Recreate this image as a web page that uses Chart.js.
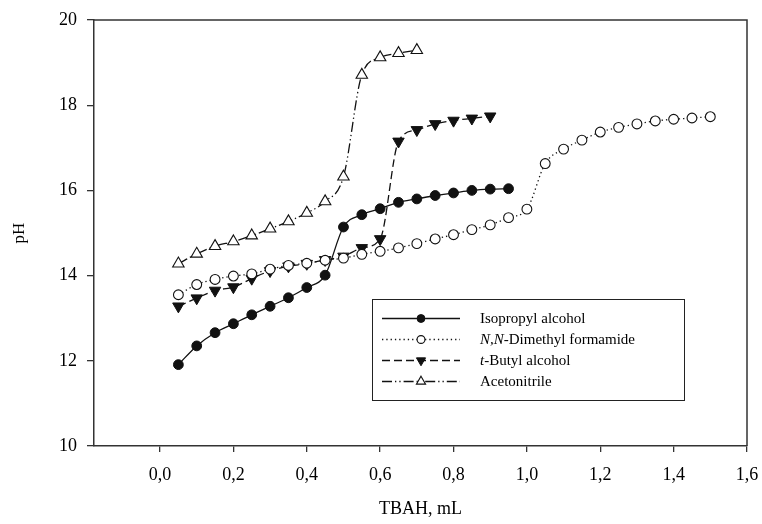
<!DOCTYPE html>
<html><head><meta charset="utf-8">
<script src="https://cdn.jsdelivr.net/npm/chart.js@4/dist/chart.umd.min.js"></script>
<style>html,body{margin:0;padding:0;background:#fff}</style>
</head><body>
<canvas id="c" width="762" height="524"></canvas>
<script>
// ---- data ----
const isoX = [0.05,0.10,0.15,0.20,0.25,0.30,0.35,0.40,0.45,0.50,0.55,0.60,0.65,0.70,0.75,0.80,0.85,0.90,0.95];
const isoY = [11.91,12.35,12.66,12.87,13.08,13.28,13.48,13.72,14.01,15.14,15.43,15.57,15.72,15.80,15.88,15.94,16.00,16.03,16.04];

const dmfX = [0.05,0.10,0.15,0.20,0.25,0.30,0.35,0.40,0.45,0.50,0.55,0.60,0.65,0.70,0.75,0.80,0.85,0.90,0.95,1.00,1.05,1.10,1.15,1.20,1.25,1.30,1.35,1.40,1.45,1.50];
const dmfY = [13.55,13.79,13.91,13.99,14.04,14.15,14.24,14.29,14.36,14.41,14.50,14.57,14.65,14.75,14.86,14.96,15.08,15.19,15.36,15.56,16.63,16.97,17.18,17.37,17.48,17.56,17.63,17.67,17.70,17.73];

const tbuX = [0.05,0.10,0.15,0.20,0.25,0.30,0.35,0.40,0.45,0.50,0.55,0.60,0.65,0.70,0.75,0.80,0.85,0.90];
const tbuY = [13.28,13.47,13.65,13.73,13.93,14.11,14.22,14.28,14.37,14.45,14.65,14.86,17.15,17.42,17.56,17.64,17.69,17.74];

const acnX = [0.05,0.10,0.15,0.20,0.25,0.30,0.35,0.40,0.45,0.50,0.55,0.60,0.65,0.70];
const acnY = [14.28,14.51,14.69,14.80,14.94,15.10,15.27,15.47,15.74,16.32,18.71,19.12,19.22,19.29];

const seriesNames = ['Isopropyl alcohol','N,N-Dimethyl formamide','t-Butyl alcohol','Acetonitrile'];
const xTickValues = [0,0.2,0.4,0.6,0.8,1.0,1.2,1.4,1.6];
const xTickLabels = ['0,0','0,2','0,4','0,6','0,8','1,0','1,2','1,4','1,6'];
const yTickValues = [10,12,14,16,18,20];

// ---- build ----
const pts = (xs, ys) => xs.map((x, i) => ({x, y: ys[i]}));
const FONT = "'Liberation Serif', 'Times New Roman', serif";
const INK = '#111';

const datasets = [
  {label: seriesNames[0], data: pts(isoX, isoY), borderColor: INK, borderWidth: 1.3, borderDash: [],
   pointStyle: 'circle', pointRadius: 4.9, pointBackgroundColor: INK, pointBorderColor: INK, pointBorderWidth: 1},
  {label: seriesNames[1], data: pts(dmfX, dmfY), borderColor: INK, borderWidth: 1.3, borderDash: [1.3, 3],
   pointStyle: 'circle', pointRadius: 4.9, pointBackgroundColor: '#fff', pointBorderColor: INK, pointBorderWidth: 1.1},
  {label: seriesNames[2], data: pts(tbuX, tbuY), borderColor: INK, borderWidth: 1.3, borderDash: [8, 4],
   pointStyle: 'triangle', rotation: 180, pointRadius: 6.6, pointBackgroundColor: INK, pointBorderColor: INK, pointBorderWidth: 1},
  {label: seriesNames[3], data: pts(acnX, acnY), borderColor: INK, borderWidth: 1.3, borderDash: [10, 3, 1.3, 3, 1.3, 3],
   pointStyle: 'triangle', rotation: 0, pointRadius: 6.6, pointBackgroundColor: '#fff', pointBorderColor: INK, pointBorderWidth: 1.1}
];
datasets.forEach(d => { d.fill = false; d.cubicInterpolationMode = 'monotone'; d.pointHoverRadius = d.pointRadius; });

const framePlugin = {
  id: 'frame',
  afterDraw(chart) {
    const {ctx, chartArea: a} = chart;
    ctx.save();
    ctx.strokeStyle = '#333';
    ctx.lineWidth = 1.5;
    ctx.beginPath();
    ctx.moveTo(a.left, a.top); ctx.lineTo(a.right, a.top); ctx.lineTo(a.right, a.bottom);
    ctx.stroke();
    ctx.restore();
  }
};

const legendPlugin = {
  id: 'boxLegend',
  afterDraw(chart) {
    const {ctx} = chart;
    const bx = 372.5, by = 299.5, bw = 312, bh = 101;
    ctx.save();
    ctx.fillStyle = '#fff';
    ctx.fillRect(bx, by, bw, bh);
    ctx.strokeStyle = '#222';
    ctx.lineWidth = 1;
    ctx.strokeRect(bx, by, bw, bh);
    const rows = [318.5, 339.5, 360.5, 381.5];
    chart.data.datasets.forEach((d, i) => {
      const y = rows[i];
      ctx.save();
      ctx.strokeStyle = d.borderColor;
      ctx.lineWidth = d.borderWidth;
      ctx.setLineDash(d.borderDash);
      ctx.beginPath(); ctx.moveTo(382, y); ctx.lineTo(460, y); ctx.stroke();
      ctx.restore();
      ctx.save();
      ctx.fillStyle = d.pointBackgroundColor;
      ctx.strokeStyle = d.pointBorderColor;
      ctx.lineWidth = d.pointBorderWidth;
      Chart.helpers.drawPoint(ctx, {pointStyle: d.pointStyle, rotation: d.rotation || 0, radius: d.pointRadius * 0.8, borderWidth: d.pointBorderWidth}, 421, y);
      ctx.restore();
      ctx.fillStyle = '#000';
      ctx.textBaseline = 'middle';
      const name = d.label;
      let parts;
      if (name.startsWith('N,N')) parts = [['N,N', true], [name.slice(3), false]];
      else if (name.startsWith('t-')) parts = [['t', true], [name.slice(1), false]];
      else parts = [[name, false]];
      let x = 480;
      parts.forEach(([t, it]) => {
        ctx.font = (it ? 'italic ' : '') + '15px ' + FONT;
        ctx.fillText(t, x, y + 0.5);
        x += ctx.measureText(t).width;
      });
    });
    ctx.restore();
  }
};

new Chart(document.getElementById('c'), {
  type: 'line',
  data: {datasets},
  options: {
    responsive: false,
    animation: false,
    devicePixelRatio: 1,
    layout: {padding: {left: 0, right: 15, top: 20, bottom: 0}},
    plugins: {legend: {display: false}, tooltip: {enabled: false}},
    scales: {
      x: {
        type: 'linear', min: -0.18, max: 1.6,
        afterBuildTicks: s => { s.ticks = xTickValues.map(v => ({value: v})); },
        afterFit: s => { s.height = 78; s.paddingRight = 0; s.paddingLeft = 0; },
        ticks: {callback: (v) => xTickLabels[xTickValues.findIndex(t => Math.abs(t - v) < 1e-9)], color: '#000',
                font: {family: FONT, size: 18}, padding: 12, maxRotation: 0, autoSkip: false},
        grid: {display: true, drawOnChartArea: false, drawTicks: true, tickLength: 6, color: '#333', lineWidth: 1.3},
        border: {display: true, color: '#333', width: 1.5},
        title: {display: true, text: 'TBAH, mL', color: '#000', font: {family: FONT, size: 18}, padding: {top: 0, bottom: 4}}
      },
      y: {
        type: 'linear', min: 10, max: 20,
        afterBuildTicks: s => { s.ticks = yTickValues.map(v => ({value: v})); },
        afterFit: s => { s.width = 94; s.paddingTop = 0; s.paddingBottom = 0; },
        ticks: {color: '#000', font: {family: FONT, size: 18}, padding: 10},
        grid: {display: true, drawOnChartArea: false, drawTicks: true, tickLength: 7, color: '#333', lineWidth: 1.3},
        border: {display: true, color: '#333', width: 1.5},
        title: {display: true, text: 'pH', color: '#000', font: {family: FONT, size: 17}, padding: {top: 9, bottom: 0}}
      }
    }
  },
  plugins: [framePlugin, legendPlugin]
});
</script>
</body></html>
